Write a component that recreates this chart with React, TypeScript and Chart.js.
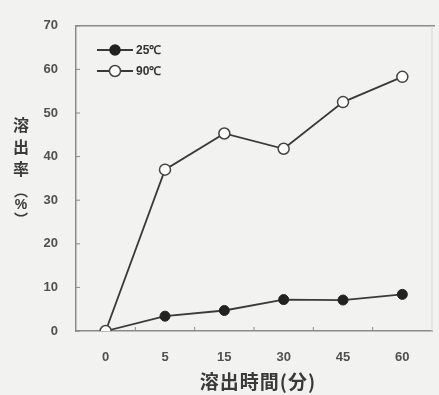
import React, { useEffect, useRef } from "react";
import { Chart, registerables } from "chart.js";

Chart.register(...registerables);

const categories = ["0", "5", "15", "30", "45", "60"];
const series25 = [0, 3.4, 4.7, 7.2, 7.1, 8.4];
const series90 = [0, 37, 45.3, 41.8, 52.5, 58.3];
const seriesNames = ["25℃", "90℃"];
const yTicks = [0, 10, 20, 30, 40, 50, 60, 70];

const CJK = '"Noto Sans CJK JP", "Noto Sans", sans-serif';
const NUM = '"Liberation Sans", Arial, sans-serif';

const decor = {
  id: "decor",
  afterDraw(chart: any) {
    const ctx = chart.ctx;
    const a = chart.chartArea;
    const y = chart.scales.y;
    const x = chart.scales.x;
    ctx.save();
    ctx.strokeStyle = "#8a8a8a";
    ctx.lineWidth = 1.5;
    ctx.beginPath();
    ctx.moveTo(a.left, a.top);
    ctx.lineTo(a.right + 3, a.top);
    ctx.stroke();
    ctx.strokeStyle = "#d8d8d8";
    ctx.lineWidth = 1;
    ctx.beginPath();
    ctx.moveTo(a.right, a.top);
    ctx.lineTo(a.right, a.bottom);
    ctx.stroke();
    ctx.strokeStyle = "#8a8a8a";
    ctx.lineWidth = 1;
    yTicks.forEach((v) => {
      const py = y.getPixelForValue(v);
      ctx.beginPath();
      ctx.moveTo(a.left, py);
      ctx.lineTo(a.left + 4, py);
      ctx.stroke();
    });
    for (let i = 1; i < categories.length; i++) {
      const px = (x.getPixelForValue(i - 1) + x.getPixelForValue(i)) / 2;
      ctx.beginPath();
      ctx.moveTo(px, a.bottom);
      ctx.lineTo(px, a.bottom - 4);
      ctx.stroke();
    }
    const lx0 = a.left + 21;
    const lx1 = a.left + 57;
    const rows = [
      { y: 50, fill: "#222", stroke: "#222", r: 5 },
      { y: 71, fill: "#ffffff", stroke: "#444", r: 5.5 },
    ];
    rows.forEach((row, i) => {
      ctx.strokeStyle = "#3a3a3a";
      ctx.lineWidth = 1.8;
      ctx.beginPath();
      ctx.moveTo(lx0, row.y);
      ctx.lineTo(lx1, row.y);
      ctx.stroke();
      ctx.beginPath();
      ctx.arc((lx0 + lx1) / 2, row.y, row.r, 0, Math.PI * 2);
      ctx.fillStyle = row.fill;
      ctx.fill();
      ctx.lineWidth = 1.5;
      ctx.strokeStyle = row.stroke;
      ctx.stroke();
      ctx.fillStyle = "#333";
      ctx.font = `bold 12px ${NUM}`;
      ctx.textAlign = "left";
      ctx.textBaseline = "middle";
      ctx.fillText(seriesNames[i], lx1 + 3, row.y + 1);
    });
    ctx.fillStyle = "#3a3a3a";
    ctx.textAlign = "center";
    ctx.textBaseline = "middle";
    const yChars = [
      { c: "溶", y: 125, f: `bold 16px ${CJK}` },
      { c: "出", y: 147, f: `bold 16px ${CJK}` },
      { c: "率", y: 169, f: `bold 16px ${CJK}` },
      { c: "︵", y: 191, f: `bold 14px ${CJK}` },
      { c: "%", y: 205, f: `bold 14px ${NUM}` },
      { c: "︶", y: 219, f: `bold 14px ${CJK}` },
    ];
    yChars.forEach((ch) => {
      ctx.font = ch.f;
      ctx.fillText(ch.c, 21, ch.y);
    });
    ctx.font = `bold 19px ${CJK}`;
    (ctx as any).letterSpacing = "1px";
    ctx.fillText("溶出時間(分)", 258, 382);
    ctx.restore();
  },
};

export default function App() {
  const ref = useRef<HTMLCanvasElement>(null);
  useEffect(() => {
    if (!ref.current) return;
    const chart = new Chart(ref.current, {
      type: "line",
      data: {
        labels: categories,
        datasets: [
          {
            label: seriesNames[0],
            data: series25,
            borderColor: "#3a3a3a",
            borderWidth: 1.8,
            pointBackgroundColor: "#222",
            pointBorderColor: "#222",
            pointRadius: 5,
            pointBorderWidth: 1,
            order: 1,
          },
          {
            label: seriesNames[1],
            data: series90,
            borderColor: "#3a3a3a",
            borderWidth: 1.8,
            pointBackgroundColor: "#ffffff",
            pointBorderColor: "#444",
            pointRadius: 5.5,
            pointBorderWidth: 1.5,
            order: 0,
          },
        ],
      },
      options: {
        responsive: false,
        animation: false,
        layout: { padding: { left: 0, right: 3, top: 21, bottom: 0 } },
        plugins: { legend: { display: false }, tooltip: { enabled: false } },
        scales: {
          x: {
            offset: true,
            grid: { display: false, drawTicks: false },
            border: { display: true, color: "#8a8a8a", width: 1.5 },
            ticks: {
              padding: 19,
              color: "#505050",
              font: { family: NUM, size: 13, weight: "bold" },
              maxRotation: 0,
            },
            afterFit: (s: any) => {
              s.height = 64;
            },
          },
          y: {
            min: 0,
            max: 70,
            grid: { display: false, drawTicks: false },
            border: { display: true, color: "#8a8a8a", width: 1.5 },
            ticks: {
              stepSize: 10,
              padding: 18,
              color: "#505050",
              font: { family: NUM, size: 13, weight: "bold" },
            },
            afterFit: (s: any) => {
              s.width = 76;
            },
          },
        },
      },
      plugins: [decor],
    });
    return () => chart.destroy();
  }, []);
  return (
    <div
      style={{
        position: "absolute",
        left: 0,
        top: 0,
        width: 439,
        height: 395,
        background: "#f2f2f0",
      }}
    >
      <canvas ref={ref} width={439} height={395} />
    </div>
  );
}
